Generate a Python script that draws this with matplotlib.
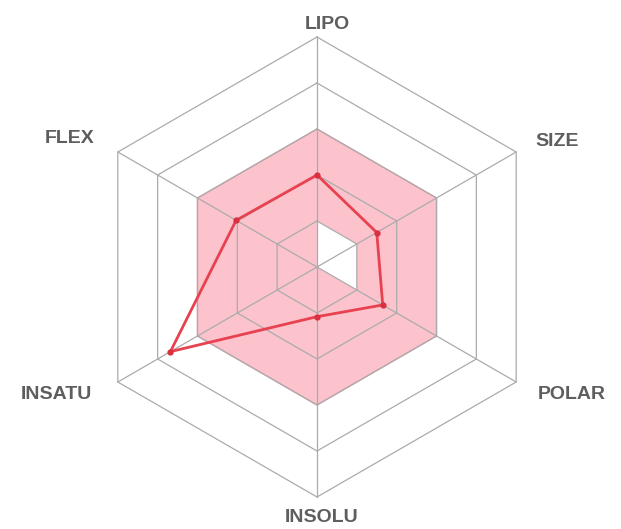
import numpy as np
import matplotlib
matplotlib.use("Agg")
import matplotlib.pyplot as plt

# bioavailability radar, values in grid-ring units (5 rings)
labels = ["LIPO", "SIZE", "POLAR", "INSOLU", "INSATU", "FLEX"]
values = [2.0, 1.5, 1.65, 1.08, 3.68, 2.03]
range_low = [1, 1, 1, 0, 0, 0]
range_high = [3, 3, 3, 3, 3, 3]
rings = [1, 2, 3, 4, 5]

angles = np.deg2rad([90, 30, -30, -90, 210, 150])
cx, cy = np.cos(angles), np.sin(angles)

def xy(r):
    r = np.asarray(r, dtype=float)
    x = r * cx
    y = r * cy
    return np.append(x, x[0]), np.append(y, y[0])

fig = plt.figure(figsize=(6.21, 5.29), dpi=100)
ax = fig.add_axes([0, 0, 1, 1])
ax.set_xlim(-317 / 46, (621 - 317) / 46)
ax.set_ylim(-262 / 46, 267 / 46)
ax.set_aspect("equal")
ax.axis("off")

# pink optimal range: outer hexagon minus inner polygon
ox, oy = xy(range_high)
ix, iy = xy(range_low)
px = np.concatenate([ox, ix[::-1]])
py = np.concatenate([oy, iy[::-1]])
ax.fill(px, py, color="#fcc3cd", lw=0, zorder=1)
ax.plot(ox, oy, color="#eba3b0", lw=1, zorder=2)

# grid
for r in rings:
    gx, gy = xy([r] * 6)
    ax.plot(gx, gy, color="#ababab", lw=0.9, zorder=3)
for a in range(6):
    ax.plot([0, 5 * cx[a]], [0, 5 * cy[a]], color="#ababab", lw=0.9, zorder=3)

# molecule
vx, vy = xy(values)
ax.plot(vx, vy, color="#e8414f", lw=2, zorder=4)
ax.plot(vx[:-1], vy[:-1], "o", color="#d9303f", ms=3.5, zorder=5)

lab_pos = [(0.22, 5.28, "center"), (4.74, 2.72, "left"), (4.8, -2.78, "left"),
           (0.1, -5.45, "center"), (-4.88, -2.78, "right"), (-4.84, 2.80, "right")]
for name, (x, y, ha) in zip(labels, lab_pos):
    ax.text(x, y, name, ha=ha, va="center", fontsize=14, color="#5e5e5e",
            family="Liberation Sans", fontweight="bold")

fig.savefig("out.png", dpi=100)
